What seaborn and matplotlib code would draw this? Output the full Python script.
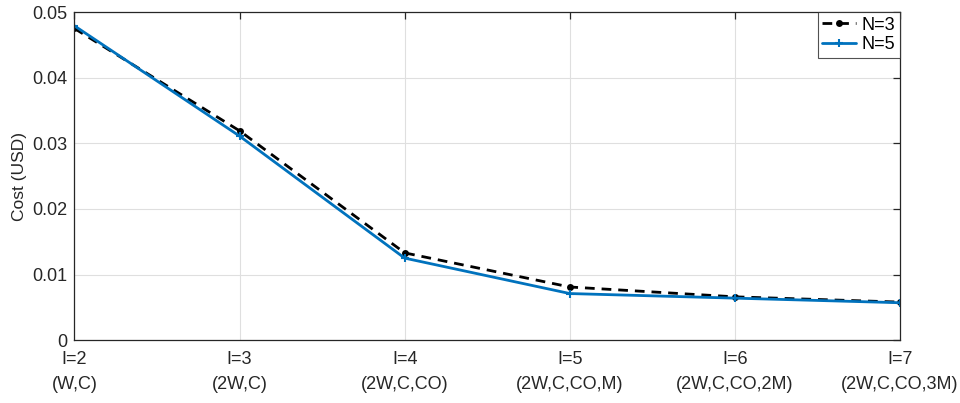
import matplotlib
matplotlib.use("Agg")
import matplotlib.pyplot as plt
import seaborn as sns
import pandas as pd

# Configuration index and the component set it represents
levels = [2, 3, 4, 5, 6, 7]
components = ["(W,C)", "(2W,C)", "(2W,C,CO)", "(2W,C,CO,M)", "(2W,C,CO,2M)", "(2W,C,CO,3M)"]

# Cost per configuration (USD)
cost_n3 = [0.0475, 0.0319, 0.0133, 0.0081, 0.0066, 0.0058]
cost_n5 = [0.0479, 0.0311, 0.0125, 0.0071, 0.0064, 0.0057]

tick_labels = [f"I={i}\n{c}" for i, c in zip(levels, components)]

df = pd.DataFrame({
    "level": levels * 2,
    "cost": cost_n3 + cost_n5,
    "series": ["N=3"] * len(levels) + ["N=5"] * len(levels),
})

sns.set_style("white")
plt.rcParams["font.family"] = ["Liberation Sans", "DejaVu Sans"]
axis_color = "#262626"
blue = "#0072BD"

fig = plt.figure(figsize=(9.6, 4.03), dpi=100)
ax = fig.add_axes([0.0776, 0.156, 0.8599, 0.814])

sns.lineplot(data=df[df.series == "N=3"], x="level", y="cost", ax=ax,
             color="black", linewidth=2, linestyle=(0, (3.5, 2.5)),
             marker="o", markersize=5, markeredgewidth=0,
             markerfacecolor="black", label="N=3")
sns.lineplot(data=df[df.series == "N=5"], x="level", y="cost", ax=ax,
             color=blue, linewidth=2, linestyle="-",
             marker="+", markersize=6, markeredgewidth=1.5,
             markeredgecolor=blue, label="N=5")

ax.set_xlim(levels[0], levels[-1])
ax.set_ylim(0, 0.05)
ax.set_xticks(levels)
ax.set_xticklabels(tick_labels, linespacing=1.6)
ax.set_yticks([0, 0.01, 0.02, 0.03, 0.04, 0.05])
ax.set_yticklabels(["0", "0.01", "0.02", "0.03", "0.04", "0.05"])
ax.set_xlabel("")
ax.set_ylabel("Cost (USD)", fontsize=12.5, color=axis_color, labelpad=4)

ax.grid(True, color="#dfdfdf", linewidth=0.8)
ax.set_axisbelow(True)
for s in ax.spines.values():
    s.set_visible(True)
    s.set_color(axis_color)
    s.set_linewidth(0.9)
ax.tick_params(axis="both", direction="in", length=5, width=0.9,
               colors=axis_color, labelsize=13, top=True, right=True,
               labelcolor=axis_color)
ax.tick_params(axis="x", pad=8)
ax.tick_params(axis="y", pad=5)

leg = ax.legend(loc="upper right", fontsize=13, frameon=True, fancybox=False,
                borderpad=0.25, handlelength=1.9, handletextpad=0.3,
                labelspacing=0.15, borderaxespad=0.0)
leg.get_frame().set_edgecolor(axis_color)
leg.get_frame().set_linewidth(0.8)
for t in leg.get_texts():
    t.set_color("black")

fig.savefig("out.png", dpi=100)
